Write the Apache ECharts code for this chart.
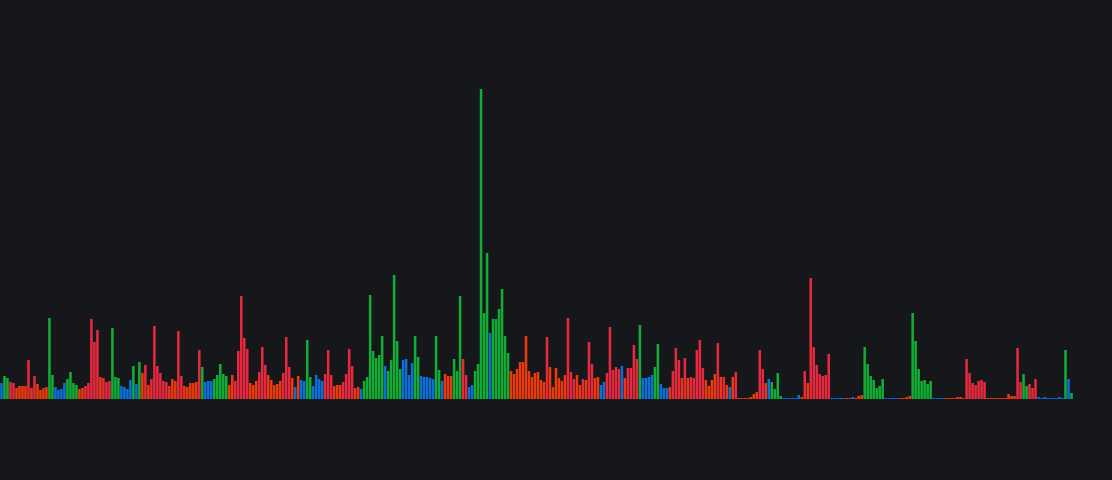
<!DOCTYPE html>
<html>
<head>
<meta charset="utf-8">
<script src="https://cdn.jsdelivr.net/npm/echarts@6/dist/echarts.min.js"></script>
<style>
html,body{margin:0;padding:0;background:#16171b;}
#chart{width:1112px;height:480px;}
</style>
</head>
<body>
<div id="chart"></div>
<script>
// bar values, read left to right
const volume = [
  16,23,21,17,16,11,13,13,13,39,11,23,15,9,11,12,81,24,12,9,10,16,20,27,16,14,10,11,13,16,
  80,57,69,22,21,17,18,71,22,21,13,12,10,19,33,15,37,26,34,14,20,73,33,26,18,17,13,20,18,68,
  23,13,12,16,16,17,49,32,17,18,18,20,24,35,25,23,14,24,18,48,103,61,50,16,14,18,27,52,34,24,
  19,14,15,18,26,62,32,21,12,23,19,18,59,22,13,24,20,18,25,49,24,13,14,14,17,25,50,33,11,12,
  10,18,22,104,48,41,44,63,33,28,39,124,58,30,39,40,24,36,63,42,23,22,22,21,20,63,29,18,25,23,23,
  40,28,103,40,24,12,14,28,35,310,86,146,66,80,80,90,110,63,46,28,25,30,37,37,63,28,22,26,27,19,
  17,62,32,12,31,21,18,24,81,27,20,24,14,20,19,57,35,21,22,14,17,26,72,29,32,30,33,21,31,31,
  54,40,74,21,21,22,24,32,55,15,11,11,12,28,51,39,21,41,21,22,21,49,59,31,19,13,19,25,56,
  22,22,14,12,22,27,1,1,1,1,2,5,7,49,30,16,20,17,10,26,3,1,1,1,1,1,4,2,28,16,
  121,52,34,25,23,24,45,1,1,1,1,1,1,1,2,1,3,4,52,35,23,19,11,13,20,1,1,1,1,1,
  1,1,2,3,86,58,30,18,19,15,18,1,1,1,1,1,1,1,1,2,2,1,40,26,16,14,18,19,17,1,
  1,1,1,1,1,1,5,3,3,51,17,25,13,15,11,20,2,1,2,1,1,1,1,2,1,49,20,6
];
// colour class of each bar: g = green, r = red, o = orange, b = blue
const trendCodes = [
  "bggrr","oooor","orooo","oggbb","bbggg","goorr",
  "rrror","rrggg","bbbbg","bgoro","rrrrr","rooor",
  "roooo","orgbb","bgggg","goorr","rrroo","orrro",
  "oooor","rrobo","bbggb","bbbrr","rooor","rrroo",
  "bgggg","gggbg","ggggb","bbbgg","bbbbb","ggbooo",
  "gggrr","bbggg","ggbgg","ggggo","ooooo","ooooo",
  "orooo","ooorr","rooro","rroob","brrrr","rborr",
  "rrgbb","bbggb","bborr","roro","rrrrr","oooor",
  "orobo","roooo","ooorr","obggg","gbbbb","bboro",
  "rrrrr","rrbbb","bboob","ooogg","ggggg","bbbbb",
  "oooog","ggggg","gbbbb","ooooo","oorrr","rrrro",
  "ooooo","oooor","rggrr","rbbbb","bbbbb","gbg"
];
const kinds = trendCodes.join("").split("");
const categories = volume.map((_, i) => String(i + 1));

const palette = { g: "#12ad34", r: "#e6293f", o: "#ec3a0d", b: "#0d6fdc" };

const chart = echarts.init(document.getElementById("chart"), null, { renderer: "canvas" });
chart.setOption({
  backgroundColor: "#16171b",
  animation: false,
  grid: { left: 0, right: 39, top: 79, bottom: 81 },
  xAxis: {
    type: "category",
    data: categories,
    show: false
  },
  yAxis: {
    type: "value",
    min: 0,
    max: 320,
    show: false,
    splitLine: { show: false }
  },
  series: [{
    type: "bar",
    barCategoryGap: "15%",
    data: volume.map((v, i) => ({ value: v, itemStyle: { color: palette[kinds[i]] || palette.b } }))
  }]
});
</script>
</body>
</html>
